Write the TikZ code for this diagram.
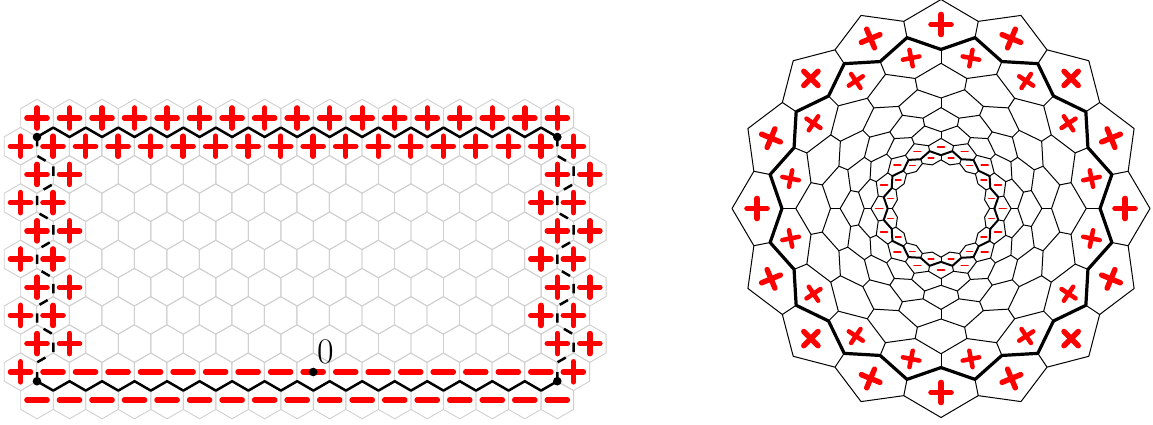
\documentclass[tikz,border=0pt]{standalone}
\usepackage{tikz}
\definecolor{hexgray}{RGB}{208,208,208}
\tikzset{
  hexcell/.style={draw=hexgray,line width=0.9pt},
  signstroke/.style={draw=red,line cap=round},
  wall/.style={draw=black,line width=2.5pt,line join=round},
  dashwall/.style={wall,dash pattern=on 9.4pt off 9.98pt},
  dotnode/.style={circle,fill=black,inner sep=0pt,minimum size=8.6pt},
  web/.style={draw=black,line width=1pt,line join=round},
}
\newcommand{\hexcellat}[2]{\draw[hexcell] (#1,#2-18.8) -- (#1+16.26,#2-9.4) -- (#1+16.26,#2+9.4) -- (#1,#2+18.8) -- (#1-16.26,#2+9.4) -- (#1-16.26,#2-9.4) -- cycle;}
\newcommand{\plusat}[2]{\draw[signstroke,line width=5.4pt] (#1-10.1,#2) -- (#1+10.1,#2) (#1,#2-10.1) -- (#1,#2+10.1);}
\newcommand{\minusat}[2]{\draw[signstroke,line width=5.4pt] (#1-10.1,#2) -- (#1+10.1,#2);}
\begin{document}
\begin{tikzpicture}[x=1pt,y=-1pt]
\useasboundingbox (0,0) rectangle (1153,424);
% --- left: hexagonal grid
\def\dx{32.52}
\foreach \r in {0,...,10}{
  \pgfmathsetmacro{\yy}{118+28.2*\r}
  \pgfmathtruncatemacro{\odd}{mod(\r,2)}
  \pgfmathsetmacro{\xs}{\odd==1?20.5:37}
  \pgfmathtruncatemacro{\kmax}{(\r==0||\r==10)?16:17}
  \foreach \k in {0,...,\kmax}{
    \pgfmathsetmacro{\xx}{\xs+\dx*\k}
    \hexcellat{\xx}{\yy}
    \pgfmathtruncatemacro{\kind}{
      (\r<=1)?1:( (\r==10)?2:( (\r==9)?((\k==0||\k==17)?1:2):((\k<=1||\k>=16)?1:0) ) )}
    \ifnum\kind=1 \plusat{\xx}{\yy}\fi
    \ifnum\kind=2 \minusat{\xx}{\yy}\fi
  }
}
% corners and origin
\node[dotnode] (tl) at (37,137) {};
\node[dotnode] (tr) at (557.3,137) {};
\node[dotnode] (bl) at (37,381.2) {};
\node[dotnode] (br) at (557.3,381.2) {};
\node[dotnode] (orig) at (313.2,372) {};
\node[anchor=center,inner sep=0pt,font=\fontsize{36}{36}\selectfont] (zero) at (326,352) {0};
% zigzags
\draw[wall] plot[samples at={0,...,32},variable=\k] ({37+16.26*\k},{137-9.4*mod(\k,2)});
\draw[wall] plot[samples at={0,...,32},variable=\k] ({37+16.26*\k},{381.2+9.4*mod(\k,2)});
% dashed side walls
\foreach \ox in {0,520.3}{
  \begin{scope}[xshift=\ox]
  \draw[dashwall] (37,137) -- (37,155.8) -- (53.26,165.2) -- (53.26,184) -- (37,193.4) -- (37,212.2) -- (53.26,221.6) -- (53.26,240.4) -- (37,249.8) -- (37,268.6) -- (53.26,278) -- (53.26,296.8) -- (37,306.2) -- (37,325) -- (53.26,334.4) -- (53.26,353) -- (37,362.4) -- (37,381.2);
  \end{scope}
}
% --- right: annular grid
\def\cx{941}\def\cy{208.5}\def\RR{209}\def\qq{0.913}
\foreach \z in {0,...,8}{
  \pgfmathsetmacro{\wd}{(\z==1)?3.2:((\z==7)?2:1)}
  \draw[web,line width=\wd pt] plot[samples at={0,...,31},variable=\k]
    ({\cx+\RR*\qq^(2*\z+mod(\k+\z,2))*cos(90+11.25*\k)},{\cy-\RR*\qq^(2*\z+mod(\k+\z,2))*sin(90+11.25*\k)}) -- cycle;
}
\foreach \z in {0,...,7}{
  \pgfmathsetmacro{\ra}{\RR*\qq^(2*\z+1)}
  \pgfmathsetmacro{\rb}{\RR*\qq^(2*\z+2)}
  \foreach \m in {0,...,15}{
    \pgfmathsetmacro{\aa}{90+11.25*(2*\m+mod(\z+1,2))}
    \draw[web] ({\cx+\ra*cos(\aa)},{\cy-\ra*sin(\aa)}) -- ({\cx+\rb*cos(\aa)},{\cy-\rb*sin(\aa)});
  }
}
% signs on the annulus
\foreach \row/\isplus in {0/1,1/1,6/0,7/0}{
  \pgfmathsetmacro{\rr}{184*0.8336^\row}
  \pgfmathsetmacro{\ss}{\rr/184}
  \pgfmathsetmacro{\wd}{5.4*\ss}
  \pgfmathsetmacro{\arm}{10.1*\ss}
  \foreach \m in {0,...,15}{
    \pgfmathsetmacro{\aa}{90+22.5*\m+11.25*mod(\row,2)}
    \pgfmathsetmacro{\px}{\cx+\rr*cos(\aa)}
    \pgfmathsetmacro{\py}{\cy-\rr*sin(\aa)}
    \ifnum\isplus=1
      \draw[signstroke,line width=\wd pt] ({\px+\arm*cos(\aa)},{\py-\arm*sin(\aa)}) -- ({\px-\arm*cos(\aa)},{\py+\arm*sin(\aa)})
        ({\px-\arm*sin(\aa)},{\py-\arm*cos(\aa)}) -- ({\px+\arm*sin(\aa)},{\py+\arm*cos(\aa)});
    \else
      \draw[signstroke,line width=\wd pt] ({\px-\arm},{\py}) -- ({\px+\arm},{\py});
    \fi
  }
}
\end{tikzpicture}
\end{document}
